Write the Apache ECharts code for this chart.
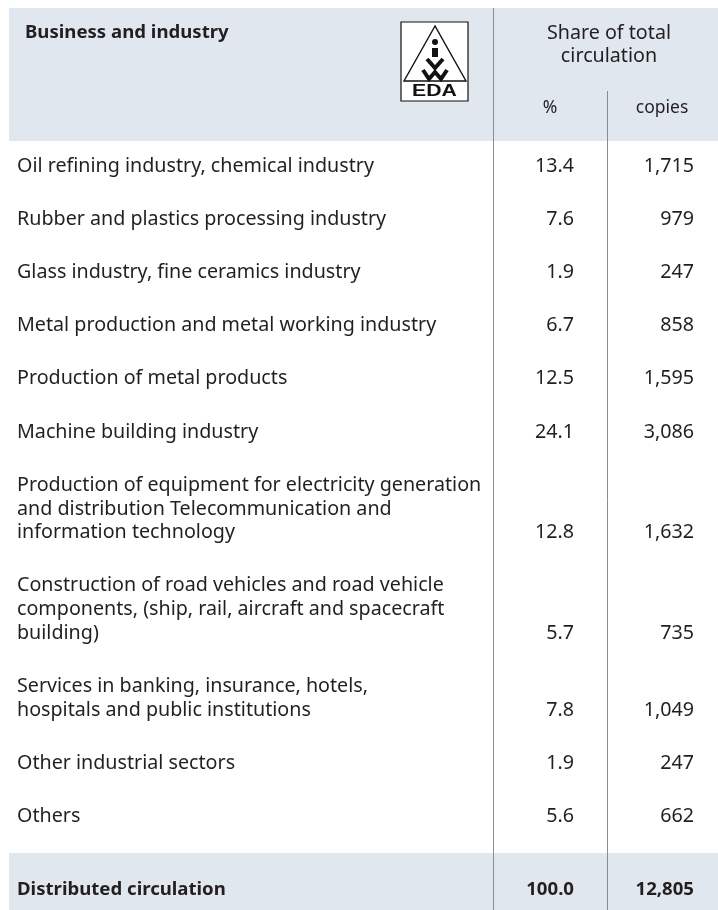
<!DOCTYPE html>
<html>
<head>
<meta charset="utf-8">
<script src="https://cdn.jsdelivr.net/npm/echarts@6/dist/echarts.min.js"></script>
<style>
    html, body { margin: 0; padding: 0; background: #fff; }
    #table { width: 718px; height: 910px; }
</style>
</head>
<body>
<div id="table"></div>
<script>
// table content
var categories = [
    'Oil refining industry, chemical industry',
    'Rubber and plastics processing industry',
    'Glass industry, fine ceramics industry',
    'Metal production and metal working industry',
    'Production of metal products',
    'Machine building industry',
    'Production of equipment for electricity generation\nand distribution Telecommunication and\ninformation technology',
    'Construction of road vehicles and road vehicle\ncomponents, (ship, rail, aircraft and spacecraft\nbuilding)',
    'Services in banking, insurance, hotels,\nhospitals and public institutions',
    'Other industrial sectors',
    'Others'
];
var percentValues = [13.4, 7.6, 1.9, 6.7, 12.5, 24.1, 12.8, 5.7, 7.8, 1.9, 5.6];
var copiesValues = [1715, 979, 247, 858, 1595, 3086, 1632, 735, 1049, 247, 662];
var totalLabel = 'Distributed circulation';
var totalPercent = 100.0;
var totalCopies = 12805;
var headerTitle = 'Business and industry';
var shareTitle = 'Share of total\ncirculation';
var columnHeaders = ['%', 'copies'];

var W = 718, H = 910;
var textColor = '#231f20';
var bandColor = '#e0e7ee';
var ruleColor = '#8c8c8c';
var font = 'Noto Sans';
var fontSize = 19.7;
var boldSize = 18.6;
var lineH = 23.7;
var rowPitch = 53.2;

var colLabel = 17, colPct = 574, colCopies = 694;

// y of the last line of each row (where the numbers sit)
var rowY = [];
var y = 166;
for (var i = 0; i < categories.length; i++) {
    y += (categories[i].split('\n').length - 1) * lineH;
    rowY.push(y);
    y += rowPitch;
}
var totalY = 890;

function fmt(n) {
    return String(n).replace(/\B(?=(\d{3})+(?!\d))/g, ',');
}

var rows = [];
for (var i = 0; i < categories.length; i++) {
    rows.push([i, percentValues[i], copiesValues[i]]);
}
rows.push([-1, totalPercent, totalCopies]);

var myChart = echarts.init(document.getElementById('table'), null, { renderer: 'canvas' });

function renderRow(params, api) {
    var idx = api.value(0);
    var bold = idx < 0;
    var ry = bold ? totalY : rowY[idx];
    var label = bold ? totalLabel : categories[idx];
    var pL = api.coord([colLabel, ry]);
    var pP = api.coord([colPct, ry]);
    var pC = api.coord([colCopies, ry]);
    var base = {
        fill: textColor,
        fontFamily: font,
        fontSize: bold ? boldSize : fontSize,
        fontWeight: bold ? 'bold' : 'normal',
        lineHeight: lineH,
        verticalAlign: 'bottom'
    };
    return {
        type: 'group',
        children: [
            { type: 'text', style: Object.assign({ text: label, x: pL[0], y: pL[1] + lineH / 2, align: 'left' }, base) },
            { type: 'text', style: Object.assign({ text: api.value(1).toFixed(1), x: pP[0], y: pP[1] + lineH / 2, align: 'right' }, base) },
            { type: 'text', style: Object.assign({ text: fmt(api.value(2)), x: pC[0], y: pC[1] + lineH / 2, align: 'right' }, base) }
        ]
    };
}

var option = {
    animation: false,
    grid: { left: 0, right: 0, top: 0, bottom: 0 },
    xAxis: { type: 'value', min: 0, max: W, show: false },
    yAxis: { type: 'value', min: 0, max: H, inverse: true, show: false },
    graphic: [
        // header and footer bands
        { type: 'rect', shape: { x: 9, y: 8, width: W - 9, height: 133 }, style: { fill: bandColor } },
        { type: 'rect', shape: { x: 9, y: 853, width: W - 9, height: H - 853 }, style: { fill: bandColor } },
        // column rules
        { type: 'line', shape: { x1: 493.5, y1: 8, x2: 493.5, y2: H }, style: { stroke: ruleColor, lineWidth: 1 } },
        { type: 'line', shape: { x1: 607.5, y1: 91, x2: 607.5, y2: H }, style: { stroke: ruleColor, lineWidth: 1 } },
        // header texts
        { type: 'text', style: { text: headerTitle, x: 25, y: 33, fill: textColor, fontFamily: font, fontSize: boldSize, fontWeight: 'bold', verticalAlign: 'middle' } },
        { type: 'text', style: { text: shareTitle, x: 609, y: 45, fill: textColor, fontFamily: font, fontSize: fontSize, lineHeight: 22.5, align: 'center', verticalAlign: 'middle' } },
        { type: 'text', style: { text: columnHeaders[0], x: 550, y: 108, fill: textColor, fontFamily: font, fontSize: 17.5, align: 'center', verticalAlign: 'middle' } },
        { type: 'text', style: { text: columnHeaders[1], x: 662, y: 108, fill: textColor, fontFamily: font, fontSize: 17.5, align: 'center', verticalAlign: 'middle' } },
        // IVW EDA logo
        { type: 'rect', shape: { x: 401, y: 22, width: 67, height: 79 }, style: { fill: '#fff', stroke: '#111', lineWidth: 1.2 } },
        { type: 'polygon', shape: { points: [[435, 26], [404, 81], [466, 81]] }, style: { fill: 'none', stroke: '#111', lineWidth: 1.4 } },
        { type: 'circle', shape: { cx: 435, cy: 42, r: 3 }, style: { fill: '#111' } },
        { type: 'rect', shape: { x: 432, y: 48, width: 6, height: 9 }, style: { fill: '#111' } },
        { type: 'polyline', shape: { points: [[427, 59], [435, 68], [443, 59]] }, style: { stroke: '#111', lineWidth: 4, fill: 'none' } },
        { type: 'polyline', shape: { points: [[423, 70], [429, 79], [435, 72], [441, 79], [447, 70]] }, style: { stroke: '#111', lineWidth: 4, fill: 'none' } },
        { type: 'text', x: 434.5, y: 91, scaleX: 1.25, style: { text: 'EDA', x: 0, y: 0, fill: '#111', fontFamily: 'Liberation Sans', fontSize: 17, fontWeight: 'bold', align: 'center', verticalAlign: 'middle' } }
    ],
    series: [{
        type: 'custom',
        coordinateSystem: 'cartesian2d',
        renderItem: renderRow,
        encode: { x: 1, y: 0 },
        data: rows,
        silent: true
    }]
};

if (option && typeof option === 'object') {
    myChart.setOption(option, true);
}
</script>
</body>
</html>
